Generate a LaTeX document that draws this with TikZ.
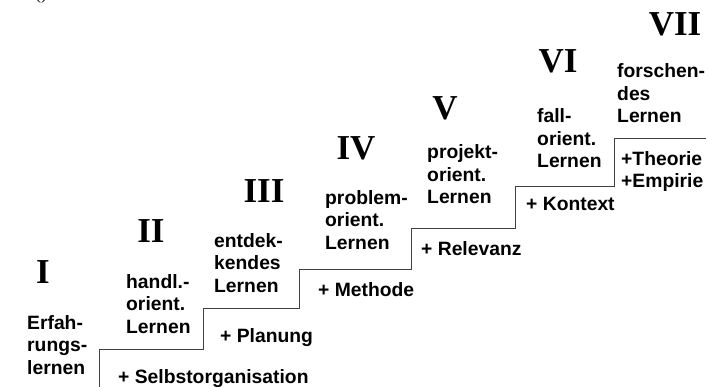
\documentclass[tikz,border=0pt]{standalone}
\usepackage{fontspec}
\setmainfont{Liberation Sans}
\newfontfamily\romfont{Liberation Serif}
\begin{document}
\begin{tikzpicture}[x=1pt,y=-1pt,
  roman/.style={font=\romfont\bfseries\fontsize{35}{40}\selectfont, inner sep=0pt, anchor=base},
  stage/.style={font=\bfseries\fontsize{19.3}{22.5}\selectfont, inner sep=0pt, anchor=base west, align=left},
  plus/.style={font=\bfseries\fontsize{19.3}{22.5}\selectfont, inner sep=0pt, anchor=base west, align=left},
  stair/.style={draw=black!75, line width=1pt}]
\useasboundingbox (0,0) rectangle (708,387);
\node[font=\romfont\fontsize{18}{20}\selectfont, inner sep=0pt, anchor=base] (frag) at (41,0) {()};
% roman numerals
\node[roman] (r1) at (43,283) {I};
\node[roman] (r2) at (151,242) {II};
\node[roman] (r3) at (264,202) {III};
\node[roman] (r4) at (356,160) {IV};
\node[roman] (r5) at (445,120) {V};
\node[roman] (r6) at (558,73) {VI};
\node[roman] (r7) at (675,36) {VII};
% stage texts (anchored at last line baseline)
\node[stage] (s1) at (27,374) {Erfah-\\rungs-\\lernen};
\node[stage] (s2) at (126,333) {handl.-\\orient.\\Lernen};
\node[stage] (s3) at (214,292) {entdek-\\kendes\\Lernen};
\node[stage] (s4) at (325,249) {problem-\\orient.\\Lernen};
\node[stage] (s5) at (427,204) {projekt-\\orient.\\Lernen};
\node[stage] (s6) at (537,168) {fall-\\orient.\\Lernen};
\node[stage] (s7) at (617,123) {forschen-\\des\\Lernen};
% plus labels
\node[plus] (p1) at (118,383) {+ Selbstorganisation};
\node[plus] (p2) at (220,342) {+ Planung};
\node[plus] (p3) at (318,296) {+ Methode};
\node[plus] (p4) at (421,255) {+ Relevanz};
\node[plus] (p5) at (526,210) {+ Kontext};
\node[plus] (p6) at (621,188) {+Theorie\\+Empirie};
% staircase
\draw[stair] (99,388) -- (99,349) -- (203,349) -- (203,308) -- (299,308) -- (299,269)
  -- (411,269) -- (411,228) -- (515,228) -- (515,187) -- (614,187) -- (614,139) -- (706,139);
\end{tikzpicture}
\end{document}
